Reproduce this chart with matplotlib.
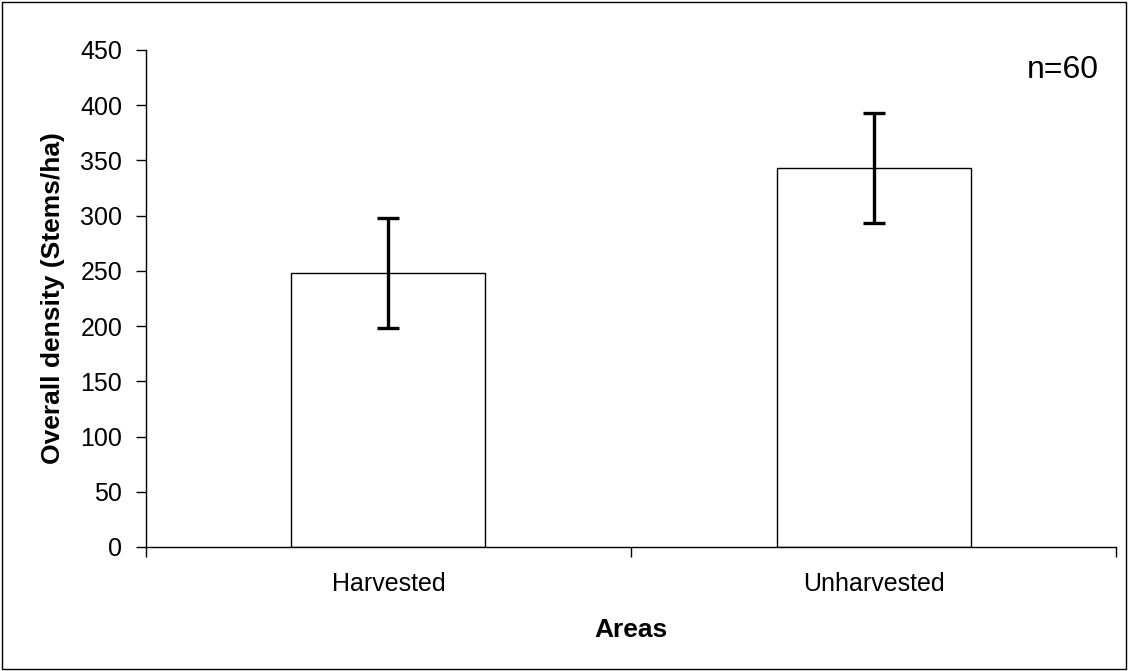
import matplotlib
matplotlib.use("Agg")
import matplotlib.pyplot as plt
from matplotlib.patches import Rectangle

plt.rcParams['font.family'] = ['Liberation Sans', 'DejaVu Sans']

areas = ['Harvested', 'Unharvested']
density = [248, 343]
errors = [50, 50]

fig = plt.figure(figsize=(11.28, 6.71), dpi=100)
ax = fig.add_axes([0.1294, 0.1848, 0.9894 - 0.1294, 0.9255 - 0.1848])

pos = [0.5, 1.5]
ax.bar(pos, density, width=0.4, color='white', edgecolor='black', linewidth=1.0, zorder=2)
ax.errorbar(pos, density, yerr=errors, fmt='none', ecolor='black', elinewidth=2.4,
            capsize=8, capthick=2.4, zorder=3)

ax.set_xlim(0, 2)
ax.set_ylim(0, 450)
ax.set_yticks(range(0, 451, 50))
ax.set_xticks([0, 1, 2])
ax.set_xticklabels([])
ax.set_xticks(pos, minor=True)
ax.set_xticklabels(areas, minor=True)
ax.tick_params(axis='x', which='minor', length=0, labelsize=18, pad=18)
ax.tick_params(axis='x', which='major', length=7, direction='out', width=1)
ax.tick_params(axis='y', length=7, direction='out', width=1, labelsize=18, pad=10)

for s in ['top', 'right']:
    ax.spines[s].set_visible(False)
ax.spines['left'].set_linewidth(1)
ax.spines['bottom'].set_linewidth(1)

ax.set_ylabel('Overall density (Stems/ha)', fontsize=19, fontweight='bold', labelpad=11)
ax.set_xlabel('Areas', fontsize=19, fontweight='bold', labelpad=16)
ax.text(0.982, 0.99, 'n=60', transform=ax.transAxes, ha='right', va='top', fontsize=23)

fig.patches.append(Rectangle((0.002, 0.003), 0.996, 0.994, transform=fig.transFigure,
                             fill=False, edgecolor='black', linewidth=1))

fig.savefig('out.png', dpi=100)
